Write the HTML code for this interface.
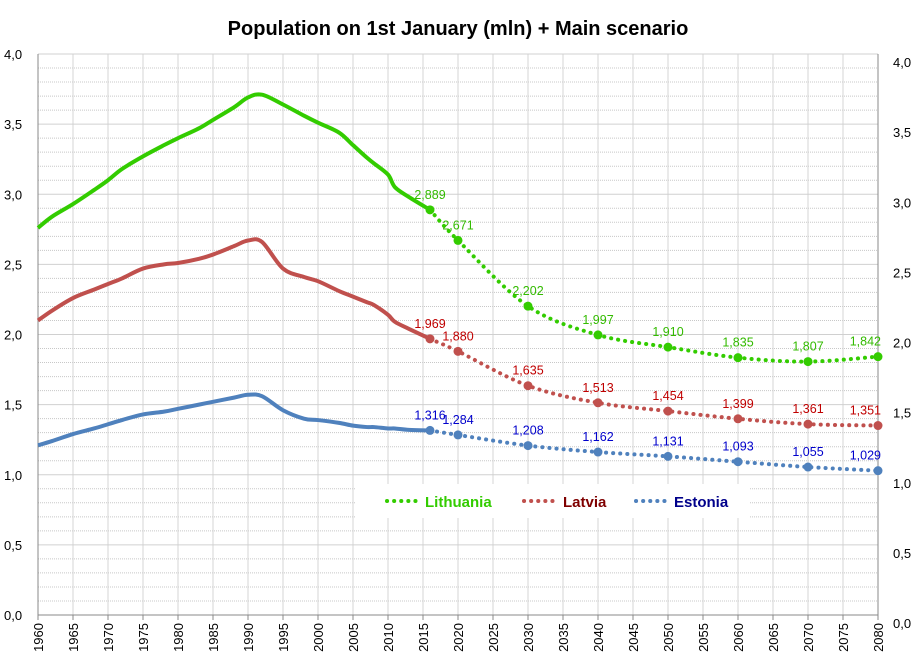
<!DOCTYPE html>
<html><head><meta charset="utf-8"><style>
body{margin:0;background:#fff;}
svg{display:block;font-family:"Liberation Sans","DejaVu Sans",sans-serif;}
</style></head><body>
<svg id="chart" width="916" height="664" viewBox="0 0 916 664">
<rect width="916" height="664" fill="#fff"/>
<text x="458" y="35" text-anchor="middle" font-size="20" font-weight="bold" fill="#000">Population on 1st January (mln) + Main scenario</text>
<g id="grid"></g><g id="axes"></g><g id="series"></g><g id="labels"></g>
<g>
<rect x="355" y="484" width="395" height="34" fill="#fff"/>
<g>
<line x1="387" y1="501" x2="420" y2="501" stroke="#33cc00" stroke-width="4" stroke-dasharray="0.1 7" stroke-linecap="round"/>
<text x="425" y="507" font-size="15" font-weight="bold" fill="#33cc00">Lithuania</text></g>
<g>
<line x1="524" y1="501" x2="556" y2="501" stroke="#c0504d" stroke-width="4" stroke-dasharray="0.1 7" stroke-linecap="round"/>
<text x="563" y="507" font-size="15" font-weight="bold" fill="#7f0000">Latvia</text></g>
<g>
<line x1="636" y1="501" x2="668" y2="501" stroke="#4f81bd" stroke-width="4" stroke-dasharray="0.1 7" stroke-linecap="round"/>
<text x="674" y="507" font-size="15" font-weight="bold" fill="#00008b">Estonia</text></g>
</g>
</svg>
<script>
const histYears=[1960,1962,1965,1968,1970,1972,1975,1978,1980,1983,1985,1988,1990,1992,1995,1998,2000,2003,2005,2007,2008,2010,2011,2013,2016];
const lithuaniaHist=[2.76,2.84,2.93,3.03,3.10,3.18,3.27,3.35,3.40,3.47,3.53,3.62,3.69,3.71,3.64,3.56,3.51,3.44,3.35,3.26,3.22,3.14,3.05,2.98,2.889];
const latviaHist=[2.10,2.17,2.26,2.32,2.36,2.40,2.47,2.50,2.51,2.54,2.57,2.63,2.67,2.66,2.47,2.41,2.38,2.31,2.27,2.23,2.21,2.14,2.09,2.04,1.969];
const estoniaHist=[1.21,1.24,1.29,1.33,1.36,1.39,1.43,1.45,1.47,1.50,1.52,1.55,1.57,1.56,1.46,1.40,1.39,1.37,1.35,1.34,1.34,1.33,1.33,1.32,1.316];
const projYears=[2016,2020,2030,2040,2050,2060,2070,2080];
const lithuaniaProj=[2.889,2.671,2.202,1.997,1.910,1.835,1.807,1.842];
const latviaProj=[1.969,1.880,1.635,1.513,1.454,1.399,1.361,1.351];
const estoniaProj=[1.316,1.284,1.208,1.162,1.131,1.093,1.055,1.029];
const yTicks=[0,0.5,1,1.5,2,2.5,3,3.5,4];

const NS="http://www.w3.org/2000/svg";
const X0=38,X1=878,Y0=615,Y1=54;
const xs=y=>X0+(y-1960)/(2080-1960)*(X1-X0);
const ys=v=>Y0-v/4*(Y0-Y1);
function mk(tag,attrs,parent){const e=document.createElementNS(NS,tag);for(const k in attrs)e.setAttribute(k,attrs[k]);parent.appendChild(e);return e;}
const fmt=v=>v.toFixed(3).replace('.',',');
const grid=document.getElementById('grid'),axes=document.getElementById('axes'),ser=document.getElementById('series'),lab=document.getElementById('labels');
// minor horizontal gridlines
for(let i=1;i<40;i++){if(i%5===0)continue;const l=mk('line',{x1:X0,x2:X1,y1:ys(i/10),y2:ys(i/10),stroke:'#c8c8c8','stroke-width':1,'stroke-dasharray':'1 1'},grid);

}
for(let yr=1965;yr<=2080;yr+=5){const l=mk('line',{x1:xs(yr),x2:xs(yr),y1:Y1,y2:Y0,stroke:'#d4d4d4','stroke-width':1},grid);

}
yTicks.forEach(v=>{if(v>0){const l=mk('line',{x1:X0,x2:X1,y1:ys(v),y2:ys(v),stroke:'#d0d0d0','stroke-width':1},grid);

}
const s=v.toFixed(1).replace('.',',');
const t1=mk('text',{x:4,y:ys(v)+5,'font-size':13,fill:'#000'},axes);t1.textContent=s;


const t2=mk('text',{x:893,y:ys(v)+13,'font-size':13,fill:'#000'},axes);t2.textContent=s;

});
mk('line',{x1:X0,x2:X0,y1:Y1,y2:Y0,stroke:'#888'},axes);
mk('line',{x1:X0,x2:X1,y1:Y0,y2:Y0,stroke:'#888'},axes);
mk('line',{x1:X1,x2:X1,y1:Y1,y2:Y0,stroke:'#888'},axes);
for(let yr=1960;yr<=2080;yr+=5){const x=xs(yr);mk('line',{x1:x,x2:x,y1:Y0,y2:Y0+5,stroke:'#888'},axes);
const t=mk('text',{x:0,y:0,'font-size':13,fill:'#000','text-anchor':'end',transform:`translate(${x+5},${Y0+8}) rotate(-90)`},axes);t.textContent=yr;

}
function smooth(pts){let d=`M${pts[0][0]},${pts[0][1]}`;for(let i=0;i<pts.length-1;i++){const p0=pts[i-1]||pts[i],p1=pts[i],p2=pts[i+1],p3=pts[i+2]||p2;
d+=` C${p1[0]+(p2[0]-p0[0])/6},${p1[1]+(p2[1]-p0[1])/6} ${p2[0]-(p3[0]-p1[0])/6},${p2[1]-(p3[1]-p1[1])/6} ${p2[0]},${p2[1]}`;}return d;}
const series=[
 {name:'lithuania',hist:lithuaniaHist,proj:lithuaniaProj,line:'#33cc00',lbl:'#33bb00'},
 {name:'latvia',hist:latviaHist,proj:latviaProj,line:'#c0504d',lbl:'#c00000'},
 {name:'estonia',hist:estoniaHist,proj:estoniaProj,line:'#4f81bd',lbl:'#0000cc'}];
series.forEach(s=>{
 const hp=histYears.map((y,i)=>[xs(y),ys(s.hist[i])]);
 const h=mk('path',{d:smooth(hp),fill:'none',stroke:s.line,'stroke-width':4,'stroke-linejoin':'round'},ser);
 
 
 const pp=projYears.map((y,i)=>[xs(y),ys(s.proj[i])]);
 const p=mk('path',{d:smooth(pp),fill:'none',stroke:s.line,'stroke-width':4,'stroke-dasharray':'0.1 7','stroke-linecap':'round'},ser);
 
 
 projYears.forEach((y,i)=>{
  const c=mk('circle',{cx:xs(y),cy:ys(s.proj[i]),r:4.5,fill:s.line},ser);
  
  
  const t=mk('text',{x:xs(y),y:ys(s.proj[i])-11,'font-size':12.5,fill:s.lbl,'text-anchor':i===projYears.length-1?'end':'middle'},lab);
  if(i===projYears.length-1)t.setAttribute('x',xs(y)+3);
  t.textContent=fmt(s.proj[i]);
  
  
 });
});
</script>
</body></html>
